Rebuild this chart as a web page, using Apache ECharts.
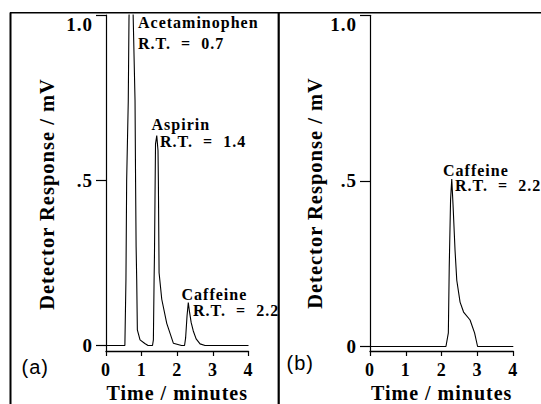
<!DOCTYPE html>
<html><head><meta charset="utf-8">
<script src="https://cdn.jsdelivr.net/npm/echarts@6/dist/echarts.min.js"></script>
<style>
html,body{margin:0;padding:0;background:#fff;}
#chart{width:541px;height:404px;}
#chart text{letter-spacing:1px;}
</style></head><body><div id="chart"></div>
<script>
// Panel (a): acetaminophen, aspirin, caffeine mixture
const timeA = [0, 0.53, 0.56, 0.58, 0.625, 0.645, 0.70, 0.765, 0.815, 0.83,
  0.845, 0.862, 0.88, 0.955, 1.09, 1.18, 1.305, 1.33, 1.35, 1.36,
  1.375, 1.39, 1.425, 1.46, 1.47, 1.49, 1.565, 1.705, 1.89, 2.12,
  2.205, 2.235, 2.275, 2.31, 2.34, 2.39, 2.45, 2.53, 2.64, 2.78, 4.0];
const respA = [0, 0, 0.20, 0.50, 0.74, 0.985, 1.30, 0.985, 0.74, 0.50,
  0.30, 0.20, 0.047, 0.017, 0.006, 0, 0, 0.017, 0.20, 0.27,
  0.44, 0.61, 0.635, 0.59, 0.50, 0.22, 0.14, 0.067, 0.007, 0,
  0, 0.023, 0.09, 0.13, 0.105, 0.07, 0.044, 0.02, 0.005, 0, 0];
// Panel (b): caffeine only
const timeB = [0, 2.12, 2.187, 2.212, 2.249, 2.282, 2.318, 2.374, 2.422, 2.514, 2.612, 2.793, 2.919, 3.003, 4.0];
const respB = [0, 0, 0.041, 0.241, 0.443, 0.506, 0.427, 0.29, 0.20, 0.134, 0.104, 0.08, 0.041, 0, 0];

const xTicks = [0, 1, 2, 3, 4];
const yTicks = [0, 0.5, 1.0];
const yTickLabels = ['0', '.5', '1.0'];
const panelLabels = ['(a)', '(b)'];
const peakNamesA = ['Acetaminophen', 'Aspirin', 'Caffeine'];
const peakRTA = ['R.T.  =  0.7', 'R.T.  =  1.4', 'R.T.  =  2.2'];
const peakNamesB = ['Caffeine'];
const peakRTB = ['R.T.  =  2.2'];
const xTitle = 'Time / minutes';
const yTitle = 'Detector Response / mV';

const SERIF = "'Liberation Serif', 'Times New Roman', serif";
const SANS = "'Liberation Sans', Arial, sans-serif";

const chart = echarts.init(document.getElementById('chart'), null, {renderer: 'svg'});

const grids = [
  {left: 106, top: 15, width: 142.5, height: 336, outerBoundsMode: 'none', containLabel: false},
  {left: 370, top: 15.3, width: 143.3, height: 335.7, outerBoundsMode: 'none', containLabel: false}
];
const yMins = [-0.0166, -0.0136];

function xAxisFor(i) {
  return {
    type: 'value', gridIndex: i, min: xTicks[0], max: xTicks[xTicks.length - 1], interval: 1,
    axisLine: {show: true, onZero: false, lineStyle: {color: '#000', width: 1.3}},
    axisTick: {show: true, length: 5, lineStyle: {color: '#000', width: 1.2}},
    splitLine: {show: false},
    axisLabel: {color: '#000', fontFamily: SERIF, fontWeight: 'bold', fontSize: 18, lineHeight: 18, margin: 10},
    name: xTitle, nameLocation: 'middle', nameGap: 32, nameMoveOverlap: false,
    nameTextStyle: {color: '#000', fontFamily: SERIF, fontWeight: 'bold', fontSize: 20, lineHeight: 20}
  };
}
function yAxisFor(i) {
  return {
    type: 'value', gridIndex: i, min: yMins[i], max: 1.0,
    axisLine: {show: true, onZero: false, lineStyle: {color: '#000', width: 1.2}},
    axisTick: {show: true, customValues: yTicks, length: 10, lineStyle: {color: '#000', width: 1.2}},
    splitLine: {show: false},
    axisLabel: {
      show: true, customValues: yTicks, color: '#000', fontFamily: SERIF, fontWeight: 'bold',
      fontSize: 19, margin: 13, verticalAlignMaxLabel: 'top',
      formatter: function (v) {
        let best = 0;
        yTicks.forEach(function (t, k) { if (Math.abs(t - v) < Math.abs(yTicks[best] - v)) best = k; });
        return yTickLabels[best];
      }
    }
  };
}

function pairs(ts, vs) { return ts.map(function (t, k) { return [t, vs[k]]; }); }

function txt(text, x, y, font, opts) {
  return Object.assign({
    type: 'text', x: x, y: y, silent: true,
    style: {text: text, font: font, fill: '#000', align: 'left', verticalAlign: 'middle'}
  }, opts || {});
}
const annFont = 'bold 16px ' + SERIF;
const titleFont = 'bold 20.5px ' + SERIF;
const panelFont = '20px ' + SANS;

const graphics = [
  // frame
  {type: 'line', shape: {x1: 10.5, y1: 12.5, x2: 10.5, y2: 404}, style: {stroke: '#000', lineWidth: 2}},
  {type: 'line', shape: {x1: 10, y1: 12.8, x2: 541, y2: 12.8}, style: {stroke: '#000', lineWidth: 1.6}},
  {type: 'line', shape: {x1: 278.7, y1: 12.5, x2: 278.7, y2: 404}, style: {stroke: '#000', lineWidth: 2.2}},
  // y titles
  txt(yTitle, 46.8, 194, titleFont, {rotation: Math.PI / 2, style: {text: yTitle, font: titleFont, fill: '#000', align: 'center', verticalAlign: 'middle'}}),
  txt(yTitle, 314.6, 193, titleFont, {rotation: Math.PI / 2, style: {text: yTitle, font: titleFont, fill: '#000', align: 'center', verticalAlign: 'middle'}}),
  // panel labels
  txt(panelLabels[0], 21.5, 366.7, panelFont),
  txt(panelLabels[1], 286.5, 363.3, panelFont),
  // peak annotations (a)
  txt(peakNamesA[0], 138, 22.5, annFont),
  txt(peakRTA[0], 138, 43, annFont),
  txt(peakNamesA[1], 151.5, 124.5, annFont),
  txt(peakRTA[1], 160, 141.5, annFont),
  txt(peakNamesA[2], 181.5, 294.5, annFont),
  txt(peakRTA[2], 193, 310, annFont),
  // peak annotations (b)
  txt(peakNamesB[0], 443, 170, annFont),
  txt(peakRTB[0], 455, 185, annFont)
];

chart.setOption({
  animation: false,
  backgroundColor: '#fff',
  grid: grids,
  xAxis: [xAxisFor(0), xAxisFor(1)],
  yAxis: [yAxisFor(0), yAxisFor(1)],
  series: [
    {type: 'line', xAxisIndex: 0, yAxisIndex: 0, data: pairs(timeA, respA), showSymbol: false, symbol: 'none',
     clip: true, lineStyle: {color: '#000', width: 1.1}},
    {type: 'line', xAxisIndex: 1, yAxisIndex: 1, data: pairs(timeB, respB), showSymbol: false, symbol: 'none',
     clip: true, lineStyle: {color: '#000', width: 1.1}}
  ],
  graphic: graphics
});
</script></body></html>
